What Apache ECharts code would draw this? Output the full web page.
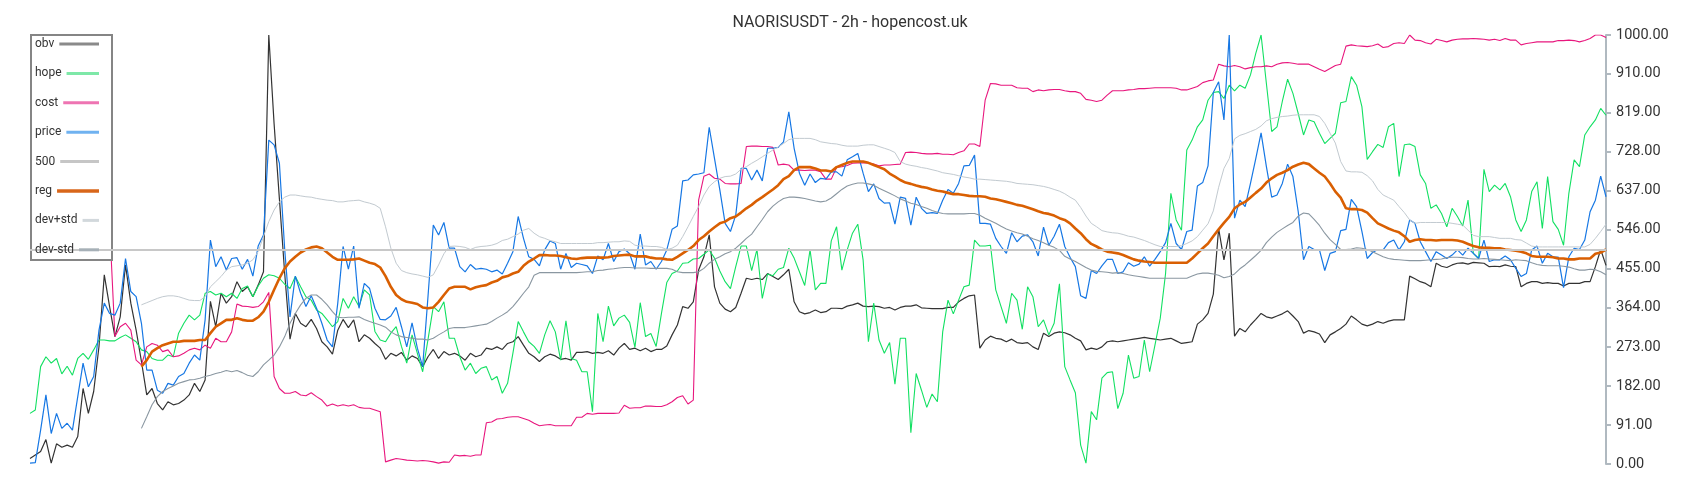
<!DOCTYPE html>
<html>
<head>
<meta charset="utf-8">
<script src="https://cdn.jsdelivr.net/npm/echarts@6/dist/echarts.min.js"></script>
<style>
html,body{margin:0;padding:0;background:#fff;}
#chart{width:1700px;height:500px;}
</style>
</head>
<body>
<div id="chart"></div>
<script>
const titleText = 'NAORISUSDT - 2h - hopencost.uk';
const seriesNames = ['obv','hope','cost','price','500','reg','dev+std','dev-std'];
const level500 = 500;

const price = [2,3,79,161,71,118,83,95,79,157,
235,180,204,312,375,351,347,375,479,402,
390,328,219,219,172,165,188,184,204,211,
235,254,242,336,522,460,483,452,479,481,
454,477,438,508,534,755,744,701,500,343,
438,398,367,392,363,328,289,273,375,507,
454,508,363,421,409,363,337,336,345,365,
320,273,329,270,227,390,557,534,563,503,
503,460,448,465,454,456,454,448,452,443,
468,495,577,526,483,477,462,499,520,514,
454,491,458,468,465,462,444,485,476,514,
472,495,501,490,454,536,464,472,454,472,
499,547,555,660,662,674,676,679,785,712,
639,561,542,580,689,689,662,685,660,736,
736,738,751,821,736,678,650,676,656,666,
664,681,681,671,709,716,724,678,635,653,
619,608,609,559,622,619,557,622,596,584,
586,584,615,640,631,654,695,696,720,561,
561,559,526,507,491,539,518,531,534,518,
485,552,510,531,559,507,482,460,392,386,
451,444,462,477,477,444,448,469,461,466,
483,461,477,495,516,561,514,500,542,545,
648,656,695,866,891,802,1000,573,615,600,
654,712,772,693,622,627,654,699,670,588,
476,507,500,499,451,491,495,544,547,617,
600,542,479,493,500,499,516,522,499,518,
569,561,518,495,472,495,487,479,487,499,
487,503,491,479,522,472,476,476,485,476,
456,437,444,499,508,468,491,483,482,411,
483,503,500,522,588,615,671,623];

const hope = [118,126,227,250,235,246,210,228,207,246,
258,244,266,289,289,287,287,295,301,293,
285,266,262,246,242,242,254,250,305,328,
347,336,347,398,402,394,398,390,398,386,
409,415,390,415,433,441,439,433,419,409,
437,413,390,382,359,351,336,320,332,386,
363,390,367,406,394,309,289,285,305,320,
274,235,301,258,215,290,367,355,378,293,
293,250,219,235,211,223,227,196,204,165,
188,258,332,308,285,274,258,301,334,308,
242,334,246,242,215,215,122,351,285,368,
322,340,347,330,272,376,297,304,274,351,
423,444,450,468,469,478,479,489,499,480,
450,425,409,460,508,508,451,500,386,443,
439,454,458,503,480,448,416,499,406,421,
421,520,553,452,499,538,559,476,285,375,
289,258,283,186,293,293,73,211,172,132,
163,145,308,382,350,382,413,417,522,508,
508,510,406,367,328,398,382,314,413,390,
320,336,301,328,420,227,196,166,44,2,
122,103,200,213,215,129,165,254,200,204,
289,215,277,340,444,631,569,545,732,755,
786,802,848,866,868,852,883,870,883,876,
907,957,1000,887,775,786,845,897,864,817,
767,802,798,771,747,759,771,842,845,903,
883,833,710,728,745,738,786,794,670,744,
746,740,674,654,596,604,584,553,596,577,
555,615,491,479,687,635,650,639,654,623,
569,542,569,635,658,549,670,565,547,510,
631,709,693,767,786,802,829,813];

const obv = [13,21,29,57,2,47,39,44,39,64,
176,118,169,274,441,367,297,343,464,375,
312,239,161,176,141,126,145,138,141,149,
161,188,169,196,379,320,398,375,390,425,
402,413,390,417,448,1000,793,618,444,291,
351,328,320,337,316,285,273,256,312,337,
318,336,285,301,293,281,270,244,258,252,
260,242,252,246,227,250,267,246,262,254,
258,252,242,258,250,254,270,267,273,267,
281,285,297,277,258,250,239,250,256,252,
244,246,242,260,260,262,258,260,258,264,
254,270,281,267,270,264,270,262,267,267,
275,301,324,367,363,378,452,483,534,413,
375,361,355,365,398,433,430,433,430,444,
437,430,441,454,378,355,350,353,359,353,
355,363,363,362,368,371,375,368,367,368,
367,363,365,359,365,368,368,371,364,363,
362,362,362,365,365,378,386,392,394,270,
289,298,293,291,285,291,283,281,283,273,
267,305,297,305,308,306,301,293,287,266,
270,267,273,285,287,285,287,289,291,293,
295,293,291,289,291,293,287,281,283,285,
326,336,351,396,549,476,538,298,316,308,
324,337,351,343,340,345,350,357,345,332,
305,311,308,303,283,301,308,316,326,345,
336,326,322,326,332,328,333,336,336,336,
438,432,425,421,413,468,461,458,464,468,
469,466,470,469,468,460,461,460,464,461,
460,413,421,425,425,421,423,421,421,415,
421,421,421,425,425,460,500,463];

const cost = [null,null,null,null,null,null,null,null,null,null,
null,null,null,null,null,560,297,320,328,312,
242,231,273,281,277,262,266,250,252,258,
266,270,266,277,270,293,285,285,308,373,
368,367,365,367,378,400,204,176,165,165,
169,161,159,166,157,149,135,140,135,138,
135,138,132,130,130,126,122,5,9,13,
11,9,8,7,8,7,5,2,5,4,
21,19,20,18,21,21,96,98,105,106,
109,110,110,106,102,95,89,91,92,89,
89,89,89,109,109,118,116,118,118,118,
118,119,137,130,131,131,135,135,134,134,
138,145,155,159,140,149,615,671,676,666,
664,654,653,653,654,740,741,741,740,740,
738,697,699,697,685,685,684,685,685,681,
664,664,691,693,696,701,702,702,702,699,
695,697,697,698,699,726,727,726,724,723,
723,724,722,722,721,726,730,746,746,740,
848,887,886,883,883,883,877,876,876,868,
872,870,872,873,873,870,868,868,864,850,
848,845,848,860,870,870,870,872,873,875,
875,876,877,877,877,877,876,872,872,876,
880,889,893,895,932,928,926,929,926,921,
924,926,926,928,926,932,935,936,934,932,
932,932,926,920,915,922,929,932,974,977,
975,974,973,975,979,971,973,980,982,980,
1000,988,987,982,979,990,987,984,988,990,
991,991,992,991,990,988,990,987,992,988,
988,977,980,982,984,984,984,984,987,987,
988,987,984,987,992,1000,1000,994];

const reg = [null,null,null,null,null,null,null,null,null,null,
null,null,null,null,null,null,null,null,null,null,
null,227,242,262,270,277,281,285,285,287,
287,287,289,289,305,320,328,336,336,340,
336,334,334,342,355,378,406,433,456,472,
483,493,500,505,507,503,493,483,476,476,
476,477,479,474,469,466,458,438,413,394,
384,378,376,373,365,363,365,378,394,409,
413,413,413,407,412,415,417,423,427,435,
438,444,448,462,472,479,487,487,486,486,
485,482,479,478,480,481,481,481,481,482,
485,486,487,488,484,484,484,481,479,479,
477,476,483,491,499,508,522,531,542,552,
561,565,573,577,586,596,604,614,622,631,
640,650,664,671,685,692,692,692,689,684,
684,682,692,697,702,705,705,705,702,697,
692,687,677,670,662,656,653,649,646,644,
640,637,635,632,629,629,627,625,624,624,
623,619,617,614,611,608,604,602,598,594,
589,585,583,579,573,569,561,549,538,524,
513,507,500,495,493,491,487,482,477,474,
472,471,469,469,469,469,469,469,469,479,
491,503,514,531,547,562,576,596,605,611,
621,632,642,656,666,674,679,685,693,698,
702,699,689,679,670,654,635,621,596,594,
594,592,586,573,561,555,549,544,540,531,
518,522,524,522,522,521,522,522,522,521,
518,513,508,505,504,504,503,503,500,499,
497,495,491,485,483,483,483,482,479,479,
477,477,479,479,479,490,493,500];

const devPlus = [null,null,null,null,null,null,null,null,null,null,
null,null,null,null,null,null,null,null,null,null,
null,371,376,381,386,390,392,392,390,386,
382,381,381,390,413,425,437,452,460,462,
464,468,476,495,530,565,592,611,622,627,
627,625,623,622,619,617,615,614,611,611,
613,614,615,611,608,604,596,553,503,468,
451,446,443,441,438,435,441,464,490,507,
508,507,505,500,505,507,508,510,514,521,
524,530,536,545,549,538,530,526,521,518,
514,514,514,514,514,514,514,516,516,517,
518,518,520,519,510,508,508,507,507,505,
500,503,510,530,553,577,600,627,647,658,
666,670,671,676,687,693,701,708,716,724,
732,739,747,756,759,759,759,759,756,751,
749,747,746,743,741,741,741,743,744,744,
740,736,732,726,705,699,696,694,691,689,
686,683,679,677,675,672,669,667,664,664,
663,662,661,660,659,657,654,653,652,651,
649,647,644,640,636,630,622,615,598,578,
561,553,544,541,539,538,535,531,529,525,
521,516,511,507,507,507,507,509,514,520,
530,545,560,590,645,689,712,758,766,770,
775,780,788,800,805,808,810,811,813,814,
814,814,814,810,794,771,748,705,683,681,
681,680,672,660,640,627,621,615,600,586,
569,561,563,563,563,563,563,563,561,559,
557,545,533,530,530,530,528,526,526,526,
523,522,515,508,506,506,506,506,506,506,
506,506,506,506,512,526,542,559];

const devMinus = [null,null,null,null,null,null,null,null,null,null,
null,null,null,null,null,null,null,null,null,null,
null,83,110,138,157,169,176,182,188,192,
196,197,200,204,207,211,214,218,215,218,
213,207,204,215,231,242,254,273,297,328,
351,371,386,394,394,384,371,355,342,341,
342,342,343,337,332,328,324,319,308,301,
297,295,293,291,291,289,293,301,308,316,
318,318,318,320,322,324,326,332,340,347,
355,367,382,398,413,440,446,446,446,446,
446,446,446,446,447,448,448,451,452,454,
455,457,458,458,457,457,457,456,456,456,
456,454,448,446,446,446,448,456,468,477,
483,490,495,503,514,526,536,553,570,588,
601,611,619,622,622,621,619,616,613,611,
613,620,630,640,648,652,655,655,653,650,
643,637,631,625,618,613,608,605,600,596,
591,587,584,583,583,583,583,584,584,580,
573,567,561,554,548,543,539,536,531,525,
521,516,510,505,498,484,478,472,465,458,
452,449,448,447,445,446,444,441,439,437,
435,433,433,433,433,433,433,433,433,438,
443,445,445,443,440,434,437,443,455,464,
475,486,498,516,529,540,548,556,563,578,
585,583,570,556,538,523,512,500,500,501,
504,503,500,495,489,483,479,477,476,475,
474,474,474,475,476,477,478,481,482,482,
481,479,478,478,479,478,477,476,475,474,
476,475,474,469,465,463,462,462,462,461,
459,455,452,452,454,453,448,441];

const categories = price.map((_, i) => i);

const lineColors = {
  'obv': '#333333', 'hope': '#12e062', 'cost': '#e8177e', 'price': '#1677e4',
  '500': '#c8c8c8', 'reg': '#d95f02', 'dev+std': '#c2cad0', 'dev-std': '#8a97a1'
};
const iconColors = {
  'obv': '#8a8a8a', 'hope': '#7ee8a8', 'cost': '#ee74b2', 'price': '#70b2f0',
  '500': '#c6c6c6', 'reg': '#d8661a', 'dev+std': '#d2d8dc', 'dev-std': '#a6b0b7'
};
const lineWidths = {
  'obv': 1.2, 'hope': 1.1, 'cost': 1.1, 'price': 1.2, '500': 2, 'reg': 2.6, 'dev+std': 1, 'dev-std': 1.1
};
const seriesData = {
  'obv': obv, 'hope': hope, 'cost': cost, 'price': price,
  '500': [], 'reg': reg, 'dev+std': devPlus, 'dev-std': devMinus
};

const chart = echarts.init(document.getElementById('chart'), null, {renderer: 'canvas'});

const ctx = document.createElement('canvas').getContext('2d');
ctx.font = '12px Roboto';
const legendLeft = 35, iconRight = 100;

const legends = seriesNames.map((name, i) => {
  const tw = ctx.measureText(name).width;
  const h = name === 'reg' ? 3.5 : 3;
  return {
    data: [name],
    left: legendLeft,
    top: 38 + i * 29.4,
    orient: 'vertical',
    align: 'right',
    padding: 0,
    itemGap: 0,
    icon: 'rect',
    itemHeight: h,
    itemWidth: Math.max(10, iconRight - legendLeft - tw - 6),
    itemStyle: {color: iconColors[name], borderWidth: 0},
    selectedMode: false,
    textStyle: {fontSize: 12, color: '#333', fontFamily: 'Roboto'},
    z: 10
  };
});

const series = seriesNames.map(name => {
  const s = {
    name: name,
    type: 'line',
    data: seriesData[name],
    symbol: 'none',
    showSymbol: false,
    connectNulls: false,
    animation: false,
    lineStyle: {color: lineColors[name], width: lineWidths[name]},
    itemStyle: {color: lineColors[name]},
    emphasis: {disabled: true}
  };
  if (name === '500') {
    s.markLine = {
      silent: true,
      symbol: ['none', 'none'],
      label: {show: false},
      lineStyle: {color: lineColors['500'], width: 2, type: 'solid'},
      data: [{yAxis: level500}],
      animation: false
    };
  }
  return s;
});

chart.setOption({
  backgroundColor: '#ffffff',
  animation: false,
  title: {
    text: titleText,
    left: 'center',
    top: 10,
    textStyle: {fontSize: 16, fontWeight: 'normal', color: '#333', fontFamily: 'Roboto'}
  },
  legend: legends,
  graphic: [{
    type: 'rect',
    left: 30, top: 34,
    shape: {width: 81, height: 225},
    style: {fill: '#ffffff', stroke: '#858585', lineWidth: 2},
    z: 5
  }],
  grid: {left: 30, right: 94, top: 35, bottom: 36, containLabel: false},
  xAxis: {
    type: 'category',
    data: categories,
    boundaryGap: false,
    show: false
  },
  yAxis: {
    type: 'value',
    position: 'right',
    min: 0,
    max: 1000,
    interval: 91,
    splitLine: {show: false},
    axisLine: {show: true, lineStyle: {color: '#b0b9c0', width: 2}},
    axisTick: {show: true, length: 5, lineStyle: {color: '#b0b9c0', width: 2}},
    axisLabel: {
      formatter: v => v.toFixed(2),
      color: '#333', fontSize: 14.5, margin: 10, fontFamily: 'Roboto'
    }
  },
  series: series
});
</script>
</body>
</html>
